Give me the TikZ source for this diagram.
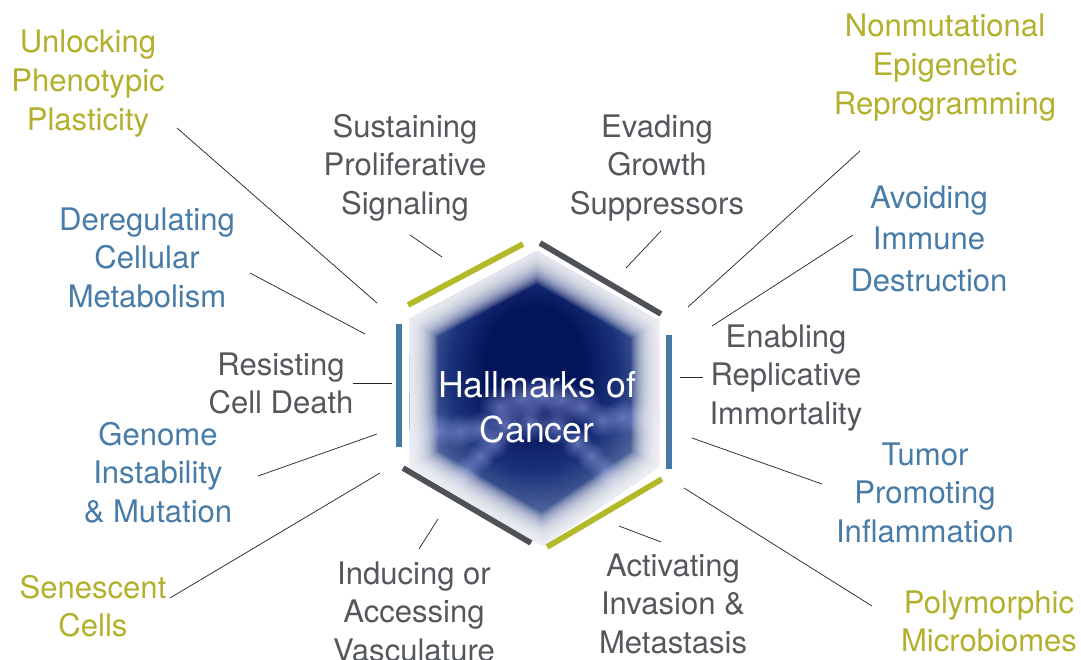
\documentclass[tikz,border=0pt]{standalone}
\usepackage{fontspec}
\setmainfont{TeX Gyre Heros}
\usetikzlibrary{fadings,calc}
\definecolor{olivec}{RGB}{178,176,44}
\definecolor{bluec}{RGB}{72,124,168}
\definecolor{grayc}{RGB}{84,88,93}
\definecolor{olivebar}{RGB}{178,186,42}
\definecolor{graybar}{RGB}{78,82,87}
\definecolor{bluebar}{RGB}{72,122,166}
\definecolor{navyc}{RGB}{4,20,90}
\definecolor{midc}{RGB}{26,50,122}
\definecolor{edgec}{RGB}{88,108,160}
\definecolor{paleedge}{RGB}{160,172,205}
\definecolor{cellc}{RGB}{122,136,204}
\pgfdeclareradialshading{hexcore}{\pgfpoint{0bp}{7bp}}{color(0bp)=(navyc); color(10bp)=(navyc); color(17bp)=(midc); color(24bp)=(edgec); color(29bp)=(paleedge); color(50bp)=(paleedge)}
\tikzfading[name=softfade, inner color=transparent!0, outer color=transparent!100]
\newcommand\lblfont{\fontsize{23.3}{29}\selectfont}
\newcommand\ctrfont{\fontsize{26.7}{33.75}\selectfont}
\newcommand\ml[2][1]{\renewcommand\arraystretch{#1}\begin{tabular}[t]{@{}c@{}}#2\end{tabular}}
\begin{document}
\begin{tikzpicture}[x=0.75pt,y=-0.75pt,
  lbl/.style={inner sep=0pt, anchor=base, font=\lblfont},
  conn/.style={draw=black!85, line width=0.55pt},
  bar/.style={line width=4.3pt, line cap=butt},
  hexp/.style={insert path={(P1) -- (P2) -- (P3) -- (P4) -- (P5) -- (P6) -- cycle}},
  puff/.style={fill=cellc, path fading=softfade, opacity=0.75}]
\useasboundingbox (0,0) rectangle (1081,660);
\coordinate (C) at (536,397);
\coordinate (P1) at (537,251);
\coordinate (P2) at (659,321);
\coordinate (P3) at (659,467);
\coordinate (P4) at (543,546);
\coordinate (P5) at (410,467);
\coordinate (P6) at (409,319);
% hexagon core
\shade[shading=hexcore, hexp];
\begin{scope}
  \clip[hexp];
  \foreach \px/\py/\r in {500/407/22, 522/399/22, 542/396/22, 562/400/22, 582/407/20,
      530/422/20, 556/426/19, 505/426/19,
      416/433/18, 438/430/18, 460/431/18, 480/429/18,
      602/420/18, 622/417/18, 642/419/18, 660/422/16,
      493/443/16, 480/456/15, 467/469/15, 456/482/14,
      577/443/16, 591/456/15, 604/469/15, 614/482/14}{
    \fill[puff] (\px,\py) circle (\r);
  }
\end{scope}
% soft white rim
\foreach \k in {1,...,30}{
  \pgfmathsetmacro\si{1-0.0075*\k}
  \fill[white, opacity=0.075, even odd rule] (P1) -- (P2) -- (P3) -- (P4) -- (P5) -- (P6) -- cycle
    ($(C)!\si!(P1)$) -- ($(C)!\si!(P2)$) -- ($(C)!\si!(P3)$) -- ($(C)!\si!(P4)$) -- ($(C)!\si!(P5)$) -- ($(C)!\si!(P6)$) -- cycle;
}
\node[inner sep=0pt, anchor=base, font=\ctrfont, text=white] (title) at (537,397) {\ml{Hallmarks of\\Cancer}};
% bars
\draw[bar, olivebar] (408,305) -- (523,244);
\draw[bar, graybar] (540,243) -- (661,314);
\draw[bar, bluebar] (669,335) -- (669,469);
\draw[bar, olivebar] (662,479) -- (547,547);
\draw[bar, graybar] (403,468) -- (531,543);
\draw[bar, bluebar] (399,324) -- (399,447);
% labels
\node[lbl, text=olivec] (upp) at (88,53) {\ml{Unlocking\\Phenotypic\\Plasticity}};
\node[lbl, text=bluec] (dcm) at (147,230) {\ml{Deregulating\\Cellular\\Metabolism}};
\node[lbl, text=grayc] (sps) at (405,137) {\ml{Sustaining\\Proliferative\\Signaling}};
\node[lbl, text=grayc] (egs) at (657,137) {\ml{Evading\\Growth\\Suppressors}};
\node[lbl, text=olivec] (ner) at (945,37) {\ml{Nonmutational\\Epigenetic\\Reprogramming}};
\node[lbl, text=bluec] (aid) at (929,208) {\ml[1.086]{Avoiding\\Immune\\Destruction}};
\node[lbl, text=grayc] (eri) at (786,347) {\ml{Enabling\\Replicative\\Immortality}};
\node[lbl, text=bluec] (tpi) at (925,465) {\ml{Tumor\\Promoting\\Inflammation}};
\node[lbl, text=olivec] (pm) at (989,613) {\ml{Polymorphic\\Microbiomes}};
\node[lbl, text=grayc] (aim) at (673,576) {\ml{Activating\\Invasion \&\\Metastasis}};
\node[lbl, text=grayc] (iav) at (414,584) {\ml{Inducing or\\Accessing\\Vasculature}};
\node[lbl, text=olivec] (sc) at (93,598) {\ml{Senescent\\Cells}};
\node[lbl, text=bluec] (gim) at (158,445) {\ml{Genome\\Instability\\\& Mutation}};
\node[lbl, text=grayc] (rcd) at (281,375) {\ml{Resisting\\Cell Death}};
% connector ends
\coordinate (upp1) at (177,128);   \coordinate (upp2) at (377,303);
\coordinate (dcm1) at (250,273);   \coordinate (dcm2) at (365,334);
\coordinate (sps1) at (410,235);   \coordinate (sps2) at (442,257);
\coordinate (egs1) at (661,231);   \coordinate (egs2) at (626,268);
\coordinate (ner1) at (860,151);   \coordinate (ner2) at (688,307);
\coordinate (aid1) at (853,235);   \coordinate (aid2) at (712,326);
\coordinate (eri1) at (703,377);   \coordinate (eri2) at (680,377);
\coordinate (tpi1) at (822,484);   \coordinate (tpi2) at (692,438);
\coordinate (pm1) at (872,606);    \coordinate (pm2) at (684,488);
\coordinate (aim1) at (661,542);   \coordinate (aim2) at (619,526);
\coordinate (iav1) at (419,549);   \coordinate (iav2) at (438,519);
\coordinate (sc1) at (170,598);    \coordinate (sc2) at (380,473);
\coordinate (gim1) at (258,476);   \coordinate (gim2) at (377,434);
\coordinate (rcd1) at (353,383);   \coordinate (rcd2) at (392,383);
\foreach \n in {upp,dcm,sps,egs,ner,aid,eri,tpi,pm,aim,iav,sc,gim,rcd}{
  \draw[conn] (\n1) -- (\n2);
}
\end{tikzpicture}
\end{document}
